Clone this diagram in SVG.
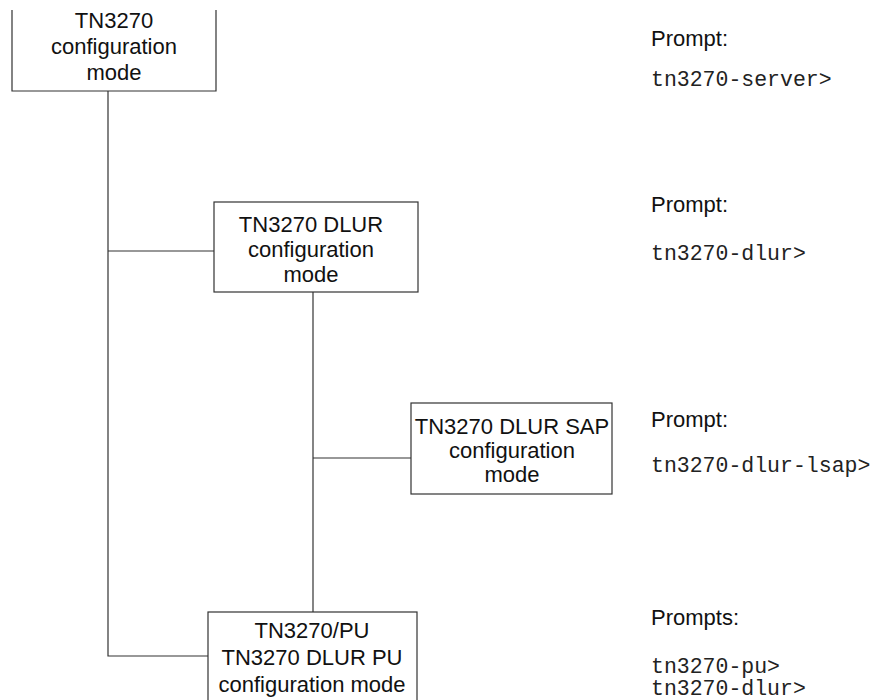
<svg xmlns="http://www.w3.org/2000/svg" width="875" height="700" viewBox="0 0 875 700">
<style>
.box{fill:#fff;stroke:#333;stroke-width:1.2}
.ln{fill:none;stroke:#333;stroke-width:1.2}
.t{font-family:"Liberation Sans",Arial,sans-serif;font-size:22px;fill:#111;text-anchor:middle}
.p{font-family:"Liberation Sans",Arial,sans-serif;font-size:22px;fill:#111}
.m{font-family:"Liberation Mono","Courier New",monospace;font-size:21.5px;fill:#222}
</style>
<rect width="875" height="700" fill="#fff"/>
<g id="connectors">
<path class="ln" d="M108,91 V656 H208"/>
<path class="ln" d="M108,251 H214"/>
<path class="ln" d="M313,292 V612"/>
<path class="ln" d="M313,458 H411"/>
</g>
<g id="node-tn3270">
<path class="box" d="M12,10 V91 H216 V10"/>
<text class="t" x="114" y="28">TN3270</text>
<text class="t" x="114" y="54">configuration</text>
<text class="t" x="114" y="80">mode</text>
</g>
<g id="node-dlur">
<rect class="box" x="214" y="202" width="204" height="90"/>
<text class="t" x="311" y="232">TN3270 DLUR</text>
<text class="t" x="311" y="257">configuration</text>
<text class="t" x="311" y="282">mode</text>
</g>
<g id="node-sap">
<rect class="box" x="411" y="403" width="201" height="91"/>
<text class="t" x="512" y="434">TN3270 DLUR SAP</text>
<text class="t" x="512" y="458">configuration</text>
<text class="t" x="512" y="482">mode</text>
</g>
<g id="node-pu">
<rect class="box" x="208" y="612" width="209" height="100"/>
<text class="t" x="312" y="638">TN3270/PU</text>
<text class="t" x="312" y="665">TN3270 DLUR PU</text>
<text class="t" x="312" y="692">configuration mode</text>
</g>
<g id="prompts">
<text class="p" x="651" y="46">Prompt:</text>
<text class="m" x="651" y="86">tn3270-server&gt;</text>
<text class="p" x="651" y="212">Prompt:</text>
<text class="m" x="651" y="260">tn3270-dlur&gt;</text>
<text class="p" x="651" y="427">Prompt:</text>
<text class="m" x="651" y="472">tn3270-dlur-lsap&gt;</text>
<text class="p" x="651" y="625">Prompts:</text>
<text class="m" x="651" y="673">tn3270-pu&gt;</text>
<text class="m" x="651" y="695">tn3270-dlur&gt;</text>
</g>
</svg>
